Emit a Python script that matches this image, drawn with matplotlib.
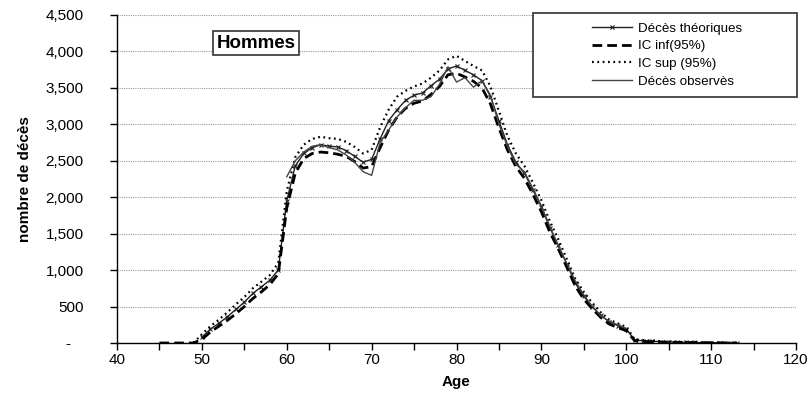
import matplotlib
matplotlib.use("Agg")
import matplotlib.pyplot as plt
from matplotlib.patches import Rectangle
from matplotlib.ticker import FuncFormatter, MultipleLocator

plt.rcParams['font.family'] = ['Liberation Sans', 'DejaVu Sans']

# Décès théoriques, ages 50..113
ages_theo = list(range(50, 114))
deces_theo = [80, 190, 270, 360, 460, 560, 680, 770, 860, 1000,
              1950, 2430, 2600, 2680, 2720, 2700, 2690, 2640, 2560, 2480,
              2520, 2800, 3050, 3200, 3330, 3400, 3430, 3530, 3620, 3760,
              3800, 3740, 3680, 3600, 3380, 3050, 2720, 2480, 2330, 2100,
              1870, 1580, 1340, 1080, 820, 640, 500, 380, 290, 240,
              190, 40, 30, 25, 20, 15, 12, 10, 8, 6,
              5, 3, 2, 1]

# IC inf(95%), ages 45..113
ages_inf = list(range(45, 114))
ic_inf = [0, 0, 0, 0, 0,
          50, 150, 230, 310, 400, 500, 610, 700, 800, 950,
          1850, 2330, 2530, 2600, 2620, 2610, 2590, 2560, 2490, 2400,
          2420, 2680, 2920, 3100, 3220, 3290, 3320, 3410, 3520, 3680,
          3700, 3650, 3590, 3500, 3280, 2950, 2650, 2420, 2260, 2040,
          1800, 1520, 1290, 1040, 780, 600, 470, 350, 260, 210,
          170, 30, 20, 15, 12, 10, 8, 6, 5, 4,
          3, 2, 1, 0]

# IC sup (95%), ages 49..113
ages_sup = list(range(49, 114))
ic_sup = [0,
          120, 230, 320, 420, 530, 630, 750, 840, 930, 1100,
          2080, 2550, 2720, 2800, 2830, 2810, 2800, 2760, 2690, 2600,
          2650, 2960, 3200, 3380, 3460, 3520, 3560, 3640, 3740, 3890,
          3940, 3870, 3800, 3740, 3520, 3180, 2840, 2600, 2430, 2200,
          1960, 1670, 1420, 1150, 880, 700, 550, 420, 320, 270,
          220, 50, 40, 32, 26, 20, 16, 13, 10, 8,
          6, 4, 3, 2]

# Décès observés, ages 60..100
ages_obs = list(range(60, 101))
deces_obs = [2280, 2500, 2620, 2700, 2720, 2680, 2650, 2580, 2480, 2350,
             2300, 2750, 2920, 3100, 3230, 3330, 3330, 3380, 3550, 3790,
             3580, 3640, 3510, 3600, 3400, 3000, 2700, 2450, 2350, 2120,
             1880, 1600, 1330, 1090, 850, 660, 500, 370, 300, 250,
             200]

fig = plt.figure(figsize=(8.1, 4.01), dpi=100)
ax = fig.add_axes([117/810, 1-343/401, (796-117)/810, (343-15)/401])

ax.plot(ages_theo, deces_theo, color='#222222', lw=1.0, marker='x',
        markersize=3.5, markeredgewidth=0.8, label='Décès théoriques')
ax.plot(ages_inf, ic_inf, color='black', lw=2.0, linestyle=(0, (3.5, 1.8)),
        label='IC inf(95%)')
ax.plot(ages_sup, ic_sup, color='black', lw=1.6, linestyle=(0, (0.8, 1.6)),
        label='IC sup (95%)')
ax.plot(ages_obs, deces_obs, color='#444444', lw=1.0, label='Décès observès')

ax.set_xlim(40, 120)
ax.set_ylim(0, 4500)
ax.xaxis.set_major_locator(MultipleLocator(10))
ax.xaxis.set_minor_locator(MultipleLocator(5))
ax.yaxis.set_major_locator(MultipleLocator(500))
ax.yaxis.set_major_formatter(FuncFormatter(lambda v, p: '-   ' if v == 0 else f'{int(v):,}'))
ax.tick_params(axis='both', which='both', direction='out', length=5, width=1,
               labelsize=11, colors='black')
ax.tick_params(axis='y', pad=19)
ax.tick_params(axis='x', pad=2)

ax.grid(axis='y', color='#999999', linestyle=(0, (1, 1)), lw=0.8)
ax.set_axisbelow(True)
for s in ['top', 'right']:
    ax.spines[s].set_visible(False)
for s in ['left', 'bottom']:
    ax.spines[s].set_linewidth(1.0)

ax.set_xlabel('Age', fontsize=11, fontweight='bold', labelpad=6)
ax.set_ylabel('nombre de décès', fontsize=11, fontweight='bold', labelpad=10)

fig.text(256/810, 1-43/401, 'Hommes', fontsize=13.5, fontweight='bold',
         ha='center', va='center',
         bbox=dict(boxstyle='square,pad=0.2', facecolor='white',
                   edgecolor='#333333', lw=1.2))

# legend box
fig.patches.append(Rectangle((533/810, 1-97/401), (797-533)/810, (97-13)/401,
                             transform=fig.transFigure, facecolor='white',
                             edgecolor='#404040', lw=1.3, zorder=5))
leg = fig.legend(loc='center', bbox_to_anchor=(667/810, 1-55/401),
                 frameon=False, fontsize=9.6, handlelength=3.0,
                 handletextpad=0.4, labelspacing=0.4)
leg.set_zorder(6)

fig.savefig('out.png', dpi=100)
